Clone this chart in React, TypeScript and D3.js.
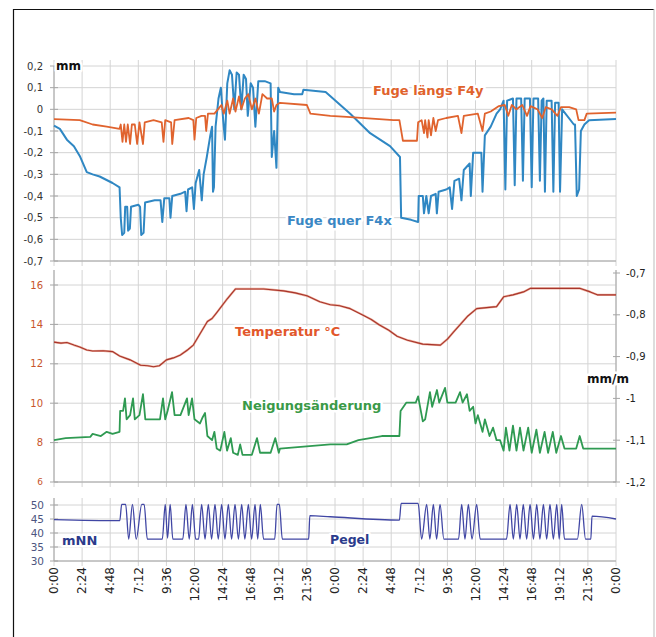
import React from 'react';
import * as d3 from 'd3';

// x in hours over two days, 0..48
const timeLabels = ['0:00', '2:24', '4:48', '7:12', '9:36', '12:00', '14:24', '16:48', '19:12', '21:36',
  '0:00', '2:24', '4:48', '7:12', '9:36', '12:00', '14:24', '16:48', '19:12', '21:36', '0:00'];
const timeTicks = timeLabels.map((_, i) => i * 2.4);

const mmTicks = [0.2, 0.1, 0, -0.1, -0.2, -0.3, -0.4, -0.5, -0.6, -0.7];
const mmLabels = ['0,2', '0,1', '0', '-0,1', '-0,2', '-0,3', '-0,4', '-0,5', '-0,6', '-0,7'];
const tempTicks = [16, 14, 12, 10, 8, 6];
const tiltTicks = [-0.7, -0.8, -0.9, -1, -1.1, -1.2];
const tiltLabels = ['-0,7', '-0,8', '-0,9', '-1', '-1,1', '-1,2'];
const pegelTicks = [50, 45, 40, 35, 30];

// [hour, mm]
const fugeLaengs: [number, number][] = [
  [0, -0.045], [2.2, -0.05], [3.3, -0.07], [4.5, -0.08], [5.6, -0.09], [5.7, -0.07], [5.85, -0.15], [6.0, -0.07],
  [6.15, -0.15], [6.3, -0.07], [6.5, -0.16], [6.65, -0.07], [6.9, -0.07], [7.1, -0.16], [7.3, -0.06], [7.6, -0.16],
  [7.75, -0.06], [8.5, -0.05], [9.2, -0.06], [9.35, -0.15], [9.5, -0.05], [10.0, -0.06], [10.1, -0.16], [10.3, -0.05],
  [11.5, -0.04], [11.9, -0.05], [12.0, -0.14], [12.15, -0.04], [12.6, -0.03], [12.9, -0.03], [13.0, -0.1], [13.15, -0.02],
  [13.7, -0.02], [14.0, 0.0], [14.3, 0.02], [14.5, -0.02], [14.8, 0.04], [15.0, -0.02], [15.3, 0.05], [15.5, -0.01],
  [15.8, 0.06], [16.0, 0.0], [16.3, 0.05], [16.6, 0.07], [16.9, 0.0], [17.2, 0.05], [17.5, -0.02], [17.8, 0.07],
  [18.2, 0.05], [18.6, 0.05], [18.8, -0.01], [19.0, 0.02], [19.3, 0.03], [21.6, 0.02], [21.9, -0.02], [23.6, -0.03],
  [25, -0.035], [29.0, -0.05], [29.5, -0.05], [29.8, -0.145], [31.0, -0.145], [31.1, -0.06], [31.4, -0.05], [31.6, -0.11],
  [31.7, -0.05], [31.9, -0.13], [32.0, -0.05], [32.2, -0.12], [32.4, -0.04], [32.6, -0.1], [32.8, -0.05], [33.5, -0.04],
  [34.5, -0.03], [34.8, -0.11], [35.0, -0.03], [36.2, -0.02], [36.6, -0.1], [36.8, -0.02], [37.3, -0.01], [38.0, 0.015],
  [38.5, 0.02], [38.8, -0.03], [39.1, 0.02], [39.5, 0.0], [40.0, 0.02], [40.4, -0.03], [40.7, 0.015], [41.3, 0.0],
  [41.7, -0.04], [42.0, 0.01], [42.5, 0.0], [43.0, -0.03], [43.3, 0.01], [44.0, 0.01], [44.6, 0.0], [44.8, -0.05],
  [45.3, -0.05], [45.5, -0.02], [48, -0.015],
];

// [hour, mm]
const fugeQuer: [number, number][] = [
  [0, -0.075], [0.5, -0.09], [1.1, -0.14], [1.7, -0.17], [2.2, -0.215], [2.8, -0.29], [3.3, -0.3], [3.9, -0.31],
  [5.0, -0.34], [5.6, -0.36], [5.7, -0.5], [5.82, -0.58], [6.0, -0.57], [6.08, -0.45], [6.25, -0.45], [6.33, -0.56],
  [6.48, -0.55], [6.58, -0.45], [7.2, -0.44], [7.35, -0.45], [7.45, -0.58], [7.65, -0.57], [7.78, -0.43], [8.6, -0.42],
  [9.1, -0.42], [9.25, -0.52], [9.42, -0.41], [9.85, -0.41], [9.95, -0.5], [10.1, -0.4], [10.8, -0.39], [11.2, -0.38],
  [11.32, -0.47], [11.45, -0.37], [11.8, -0.36], [11.95, -0.46], [12.1, -0.34], [12.4, -0.28], [12.62, -0.42], [12.78, -0.3],
  [13.05, -0.22], [13.35, -0.12], [13.5, -0.08], [13.58, -0.38], [13.66, -0.36], [13.8, -0.08], [14.05, 0.05], [14.25, 0.1],
  [14.45, -0.05], [14.6, -0.14], [14.8, 0.12], [15.0, 0.18], [15.2, 0.16], [15.4, 0.0], [15.6, 0.17], [15.8, 0.16],
  [16.0, 0.0], [16.2, 0.16], [16.4, 0.14], [16.55, -0.03], [16.8, 0.12], [17.0, 0.1], [17.2, -0.08], [17.45, 0.13],
  [18.0, 0.13], [18.5, 0.12], [18.6, -0.22], [18.8, -0.1], [19.0, -0.27], [19.15, 0.1], [19.3, 0.08], [20.5, 0.07],
  [21.2, 0.07], [21.3, 0.09], [23.2, 0.08], [25.3, -0.02], [27.0, -0.11], [28.7, -0.17], [29.55, -0.22], [29.65, -0.5],
  [30.5, -0.51], [31.1, -0.52], [31.15, -0.4], [31.5, -0.4], [31.6, -0.48], [31.8, -0.4], [32.0, -0.48], [32.2, -0.4],
  [32.6, -0.39], [32.7, -0.48], [32.85, -0.38], [33.5, -0.37], [33.8, -0.36], [34.0, -0.46], [34.2, -0.33], [34.6, -0.32],
  [34.8, -0.42], [35.0, -0.28], [35.5, -0.25], [35.6, -0.4], [35.8, -0.2], [36.5, -0.2], [36.6, -0.38], [36.8, -0.12],
  [37.3, -0.08], [37.8, -0.02], [38.1, 0.0], [38.4, 0.04], [38.55, -0.37], [38.7, 0.04], [39.2, 0.05], [39.35, -0.35],
  [39.5, 0.05], [39.9, 0.05], [40.05, -0.33], [40.2, 0.05], [40.65, 0.05], [40.8, -0.36], [40.95, 0.05], [41.35, 0.05],
  [41.5, -0.33], [41.65, 0.04], [41.8, 0.05], [41.93, -0.38], [42.08, 0.04], [42.5, 0.04], [42.65, -0.38], [42.8, 0.03],
  [43.1, 0.03], [43.22, -0.38], [43.4, 0.0], [44.4, -0.07], [44.5, -0.07], [44.65, -0.4], [44.85, -0.37], [45.0, -0.1],
  [45.3, -0.07], [45.7, -0.05], [48, -0.045],
];

// [hour, °C]
const temperatur: [number, number][] = [
  [0, 13.1], [0.6, 13.05], [1.1, 13.08], [1.7, 12.95], [2.2, 12.85], [2.8, 12.7], [3.3, 12.65], [4.2, 12.66],
  [5.0, 12.62], [5.6, 12.4], [6.5, 12.2], [7.4, 11.93], [8.0, 11.9], [8.5, 11.85], [9.0, 11.9], [9.6, 12.2],
  [10.2, 12.3], [10.8, 12.45], [11.4, 12.7], [11.9, 12.95], [12.5, 13.55], [13.1, 14.15], [13.5, 14.3], [13.9, 14.6],
  [14.8, 15.3], [15.5, 15.8], [17.9, 15.8], [19.6, 15.7], [20.6, 15.6], [21.6, 15.45], [22.7, 15.15], [23.6, 15.0],
  [24.4, 14.95], [25.3, 14.8], [26.4, 14.47], [27.1, 14.25], [27.8, 13.97], [28.6, 13.7], [29.3, 13.4], [30.2, 13.2],
  [31.5, 13.0], [33.0, 12.95], [33.6, 13.25], [34.1, 13.6], [35.3, 14.4], [36.1, 14.8], [37.8, 14.9], [38.4, 15.4],
  [39.2, 15.5], [40.1, 15.65], [40.7, 15.83], [44.9, 15.83], [45.8, 15.65], [46.4, 15.5], [48, 15.5],
];

// [hour, mm/m]
const neigung: [number, number][] = [
  [0, -1.1], [1.0, -1.095], [3.1, -1.092], [3.3, -1.085], [4.0, -1.09], [4.5, -1.08], [5.0, -1.085], [5.6, -1.08],
  [5.65, -1.03], [5.9, -1.03], [6.06, -1.0], [6.2, -1.05], [6.5, -1.04], [6.75, -1.0], [6.9, -1.05], [7.3, -1.04],
  [7.6, -0.99], [7.8, -1.05], [8.0, -1.05], [9.05, -1.05], [9.31, -1.0], [9.5, -1.05], [9.7, -1.03], [10.08, -0.985],
  [10.3, -1.04], [10.8, -1.04], [11.36, -1.0], [11.5, -1.04], [11.79, -1.0], [12.0, -1.05], [12.47, -1.06], [12.7, -1.045],
  [12.9, -1.035], [13.1, -1.09], [13.5, -1.1], [13.7, -1.08], [13.9, -1.12], [14.2, -1.125], [14.55, -1.08], [14.78, -1.125],
  [15.1, -1.095], [15.3, -1.13], [15.7, -1.135], [15.9, -1.11], [16.1, -1.135], [16.5, -1.135], [16.9, -1.135], [17.34, -1.095],
  [17.6, -1.13], [18.5, -1.13], [18.9, -1.095], [19.2, -1.13], [19.3, -1.12], [23.6, -1.11], [25, -1.11], [26.0, -1.1],
  [27.0, -1.095], [28.0, -1.09], [29.5, -1.09], [29.6, -1.03], [30.1, -1.01], [30.9, -1.01], [31.1, -0.995], [31.5, -1.055],
  [31.7, -1.05], [32.11, -0.985], [32.3, -1.02], [32.71, -0.98], [32.9, -1.01], [33.4, -0.975], [33.6, -1.01], [34.3, -1.01],
  [34.68, -0.985], [34.9, -1.01], [35.27, -0.99], [35.5, -1.03], [35.8, -1.02], [36.0, -1.06], [36.2, -1.04], [36.6, -1.08],
  [36.8, -1.05], [37.2, -1.09], [37.5, -1.07], [37.8, -1.1], [38.1, -1.1], [38.4, -1.125], [38.6, -1.07], [38.9, -1.125],
  [39.2, -1.065], [39.5, -1.125], [39.8, -1.07], [40.1, -1.125], [40.5, -1.07], [40.8, -1.13], [41.2, -1.075], [41.5, -1.13],
  [41.9, -1.08], [42.2, -1.13], [42.6, -1.08], [42.9, -1.13], [43.3, -1.09], [43.6, -1.12], [44.6, -1.12], [44.9, -1.09],
  [45.2, -1.12], [48, -1.12],
];

// [hour, mNN]
const pegel: [number, number][] = [
  [0, 44.8], [5.62, 44.4], [5.78, 50.2], [6.12, 50.2], [6.38, 37.8], [6.7, 50.2], [7.02, 37.8], [7.5, 50.2],
  [7.7, 50.2], [7.97, 37.8], [9.25, 37.8], [9.5, 50.2], [9.7, 38.2], [9.92, 50.2], [10.15, 37.8], [11.0, 37.8],
  [11.27, 50.2], [11.55, 37.8], [11.82, 50.2], [12.1, 37.8], [12.35, 37.8], [12.61, 50.2], [12.9, 37.8], [13.18, 50.2],
  [13.46, 37.8], [13.75, 50.2], [14.03, 37.8], [14.32, 50.2], [14.6, 37.8], [14.89, 50.2], [15.17, 37.8], [15.46, 50.2],
  [15.75, 37.8], [16.03, 50.2], [16.3, 37.8], [16.6, 50.2], [16.88, 37.8], [17.17, 50.2], [17.4, 37.8], [17.62, 50.2],
  [17.9, 37.8], [18.85, 37.8], [19.05, 50.2], [19.25, 50.2], [19.5, 37.8], [21.75, 37.8], [21.85, 46.2], [23.6, 45.8],
  [29.5, 44.6], [29.65, 50.6], [31.1, 50.6], [31.4, 37.8], [31.83, 50.2], [32.1, 37.8], [32.4, 50.2], [32.68, 37.8],
  [32.97, 50.2], [33.3, 37.8], [34.55, 37.8], [34.82, 50.2], [35.1, 37.8], [35.39, 50.2], [35.7, 37.8], [36.1, 50.2],
  [36.4, 37.8], [38.65, 37.8], [38.95, 50.2], [39.23, 37.8], [39.52, 50.2], [39.8, 37.8], [40.08, 50.2], [40.37, 37.8],
  [40.66, 50.2], [40.95, 37.8], [41.23, 50.2], [41.5, 37.8], [41.8, 50.2], [42.08, 37.8], [42.36, 50.2], [42.65, 37.8],
  [42.94, 50.2], [43.15, 37.8], [43.36, 50.2], [43.6, 37.8], [44.7, 37.8], [45.07, 50.2], [45.4, 37.8], [45.85, 37.8],
  [45.95, 46], [48, 45.0],
];

const W = 656;
const H = 637;
const tickFont = 'DejaVu Sans, Verdana, sans-serif';
const gridColor = '#d4d4d4';
const axisColor = '#a6a6a6';

const x = d3.scaleLinear().domain([0, 48]).range([54, 616]);
const yMm = d3.scaleLinear().domain([-0.7, 0.2]).range([261, 66]);
const yTemp = d3.scaleLinear().domain([6, 16]).range([482, 285]);
const yTilt = d3.scaleLinear().domain([-1.2, -0.7]).range([482, 273]);
const yPegel = d3.scaleLinear().domain([30, 50]).range([561, 505]);

const lineOf = (y: d3.ScaleLinear<number, number>, curve = d3.curveLinear) =>
  d3.line<[number, number]>().x(d => x(d[0])).y(d => y(d[1])).curve(curve);

const Label = ({ x: lx, y: ly, text, color, size = 13 }) => (
  <text x={lx} y={ly} fill={color} fontFamily={tickFont} fontWeight="bold" fontSize={size}
    stroke="#fff" strokeWidth={5} strokeLinejoin="round" style={{ paintOrder: 'stroke' }}>
    {text}
  </text>
);

const VGrid = ({ top, bottom }) => (
  <g>
    {timeTicks.map((t, i) => (
      <line key={i} x1={x(t)} x2={x(t)} y1={top} y2={bottom + 5} stroke={gridColor} strokeWidth={1} />
    ))}
  </g>
);

const HGrid = ({ ticks, y }) => (
  <g>
    {ticks.map((t, i) => (
      <g key={i}>
        <line x1={x(0)} x2={x(48)} y1={y(t)} y2={y(t)} stroke={gridColor} strokeWidth={1} />
        <line x1={x(0) - 4} x2={x(0) + 4} y1={y(t)} y2={y(t)} stroke={axisColor} strokeWidth={1} />
      </g>
    ))}
  </g>
);

export default function App() {
  return (
    <svg width={W} height={H} style={{ position: 'absolute', left: 0, top: 0, background: '#fff' }}>
      <rect x={0} y={0} width={W} height={H} fill="#fff" />
      {/* frame */}
      <line x1={13.5} x2={13.5} y1={9} y2={H} stroke="#111" strokeWidth={1.2} />
      <line x1={13} x2={654} y1={9.5} y2={9.5} stroke="#111" strokeWidth={1.2} />
      <line x1={654} x2={654} y1={9} y2={H} stroke="#bbb" strokeWidth={1} />

      {/* top panel */}
      <VGrid top={yMm(0.2) - 6} bottom={yMm(-0.7)} />
      <HGrid ticks={mmTicks} y={yMm} />
      <line x1={x(0)} x2={x(0)} y1={yMm(0.2)} y2={yMm(-0.7)} stroke={axisColor} />
      <line x1={x(0)} x2={x(48)} y1={yMm(-0.7)} y2={yMm(-0.7)} stroke={axisColor} />
      {mmTicks.map((t, i) => (
        <text key={i} x={43} y={yMm(t)} dy="0.35em" textAnchor="end" fontFamily={tickFont} fontSize={10} fill="#333">
          {mmLabels[i]}
        </text>
      ))}
      <path d={lineOf(yMm)(fugeQuer)} fill="none" stroke="#2f87c3" strokeWidth={2} strokeLinejoin="round" />
      <path d={lineOf(yMm)(fugeLaengs)} fill="none" stroke="#e0632e" strokeWidth={1.8} strokeLinejoin="round" />
      <Label x={56} y={70} text="mm" color="#111" size={12} />
      <Label x={373} y={95} text="Fuge längs F4y" color="#e0622c" size={13} />
      <Label x={287} y={225} text="Fuge quer F4x" color="#3a87c4" size={13} />

      {/* middle panel */}
      <VGrid top={270} bottom={yTemp(6)} />
      <HGrid ticks={tempTicks} y={yTemp} />
      <line x1={x(0)} x2={x(0)} y1={270} y2={yTemp(6)} stroke={axisColor} />
      <line x1={x(48)} x2={x(48)} y1={270} y2={yTemp(6)} stroke={axisColor} />
      <line x1={x(0)} x2={x(48)} y1={yTemp(6)} y2={yTemp(6)} stroke={axisColor} />
      {tempTicks.map((t, i) => (
        <text key={i} x={43} y={yTemp(t)} dy="0.35em" textAnchor="end" fontFamily={tickFont} fontSize={t === 6 ? 9 : 10} fill="#c8552b">
          {t}
        </text>
      ))}
      {tiltTicks.map((t, i) => (
        <g key={i}>
          <line x1={x(48) - 3} x2={x(48) + 4} y1={yTilt(t)} y2={yTilt(t)} stroke={axisColor} />
          <text x={626} y={yTilt(t)} dy="0.35em" fontFamily={tickFont} fontSize={10} fill="#222">
            {tiltLabels[i]}
          </text>
        </g>
      ))}
      <path d={lineOf(yTemp)(temperatur)} fill="none" stroke="#e07a5a" strokeWidth={2.2} strokeLinejoin="round" opacity={0.6} />
      <path d={lineOf(yTemp)(temperatur)} fill="none" stroke="#a8352c" strokeWidth={1.1} strokeLinejoin="round" />
      <path d={lineOf(yTilt)(neigung)} fill="none" stroke="#2f9a52" strokeWidth={1.8} strokeLinejoin="round" />
      <Label x={235} y={336} text="Temperatur °C" color="#e2572b" size={13} />
      <Label x={242} y={410} text="Neigungsänderung" color="#3a9a48" size={13} />
      <Label x={587} y={383} text="mm/m" color="#111" size={12} />

      {/* bottom panel */}
      <VGrid top={498} bottom={yPegel(30)} />
      <HGrid ticks={pegelTicks} y={yPegel} />
      <line x1={x(0)} x2={x(0)} y1={498} y2={yPegel(30)} stroke={axisColor} />
      <line x1={x(0)} x2={x(48)} y1={yPegel(30)} y2={yPegel(30)} stroke={axisColor} />
      {pegelTicks.map((t, i) => (
        <text key={i} x={44} y={yPegel(t)} dy="0.35em" textAnchor="end" fontFamily={tickFont} fontSize={10.5} fill="#4d5580">
          {t}
        </text>
      ))}
      <path d={lineOf(yPegel, d3.curveMonotoneX)(pegel)} fill="none" stroke="#4046a4" strokeWidth={1.3} strokeLinejoin="round" />
      <Label x={62} y={545} text="mNN" color="#2b3b8c" size={13} />
      <Label x={330} y={544} text="Pegel" color="#2b3b8c" size={12.5} />

      {/* time labels */}
      {timeTicks.map((t, i) => (
        <text key={i} transform={`translate(${x(t)},567) rotate(-90)`} dy="0.35em" textAnchor="end"
          fontFamily={tickFont} fontSize={12} fill="#222">
          {timeLabels[i]}
        </text>
      ))}
    </svg>
  );
}
